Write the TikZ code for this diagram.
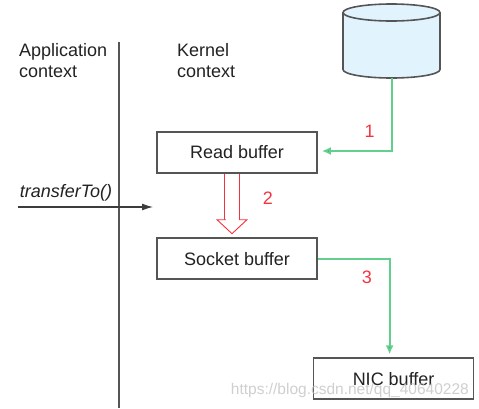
\documentclass[tikz,border=0pt]{standalone}
\usepackage{fontspec}
\setmainfont{Liberation Sans}
\usetikzlibrary{arrows.meta,positioning}
\definecolor{ink}{HTML}{222222}
\definecolor{edge}{HTML}{555555}
\definecolor{diskblue}{HTML}{E1F3FD}
\definecolor{copygreen}{HTML}{63CF8C}
\definecolor{tipgreen}{HTML}{12B35A}
\definecolor{copyred}{HTML}{F5333F}
\tikzset{
  >=Latex,
  every node/.style={font=\fontsize{18}{21}\selectfont,text=ink},
  buffer/.style={draw=edge,line width=1.6pt,fill=white,minimum width=160pt,minimum height=41pt,inner sep=0pt},
  diskspot/.style={minimum width=97pt,minimum height=74pt,inner sep=0pt,outer sep=0pt},
  diskwall/.style={draw=edge,fill=diskblue,line width=1.6pt},
  ctxlabel/.style={align=left,anchor=north west,inner sep=0pt},
  steplabel/.style={text=copyred,inner sep=0pt},
  divider/.style={draw=edge,line width=1.3pt},
  callarr/.style={-{Latex[length=11pt,width=7pt]},draw=edge!70!black,line width=1.2pt},
  dmacopy/.style={-{Latex[length=9pt,width=8pt,fill=tipgreen]},draw=copygreen,line width=1.8pt},
  cpucopy/.style={double=white,double distance=14pt,draw=copyred,line width=.9pt,-{Triangle[length=15pt,width=32pt,fill=white,line width=.9pt]}},
  shaftgap/.style={draw=white,line width=13pt},
  urlmark/.style={font=\fontsize{15.5}{18}\selectfont,text=black!25,text opacity=.75,inner sep=0pt}
}
\begin{document}
\begin{tikzpicture}[x=1pt,y=-1pt]
  \useasboundingbox (0,0) rectangle (479,408);
  \node[ctxlabel] (appctx) at (19,43) {Application\\context};
  \node[ctxlabel] (kernctx) at (177,43) {Kernel\\context};
  \node[diskspot] (store) at (391.5,41) {};
  \node[buffer] (read) at (237,152.5) {Read buffer};
  \node[buffer,below=63.5pt of read] (socket) {Socket buffer};
  \node[buffer,below right=77.5pt and -5pt of socket] (nic) {NIC buffer};

  \draw[diskwall] ([yshift=-8.5pt]store.north west) -- ([yshift=8.5pt]store.south west)
    arc[start angle=180,end angle=360,x radius=48.5pt,y radius=8.5pt]
    -- ([yshift=-8.5pt]store.north east);
  \draw[diskwall] ([yshift=-8.5pt]store.north) ellipse[x radius=48.5pt,y radius=8.5pt];

  \coordinate (divtop) at (119,42);
  \coordinate (divbot) at (119,408);
  \coordinate (callstart) at (18,207);
  \coordinate (callend) at (153,207);
  \node[inner sep=0pt,font=\fontsize{18}{21}\selectfont\itshape] (call) at (66,193) {transferTo()};

  \draw[divider] (divtop)--(divbot);
  \draw[callarr] (callstart)--(callend);
  \draw[cpucopy,shorten >=3pt] ([xshift=-5pt]read.south)--([xshift=-5pt]socket.north);
  \draw[shaftgap,shorten <=2pt,shorten >=16.5pt] ([xshift=-5pt]read.south)--([xshift=-5pt]socket.north);
  \draw[dmacopy,shorten >=4pt] ([xshift=.5pt]store.south) |- ([yshift=1.5pt]read.east);
  \draw[dmacopy,shorten >=3pt] (socket.east) -| ([xshift=-4pt]nic.north);

  \node[steplabel] (one) at (369.5,131) {1};
  \node[steplabel] (two) at (268,198) {2};
  \node[steplabel] (three) at (367,277) {3};
  \node[urlmark,anchor=east] (url) at (469,390) {https://blog.csdn.net/qq\_40640228};
\end{tikzpicture}
\end{document}
